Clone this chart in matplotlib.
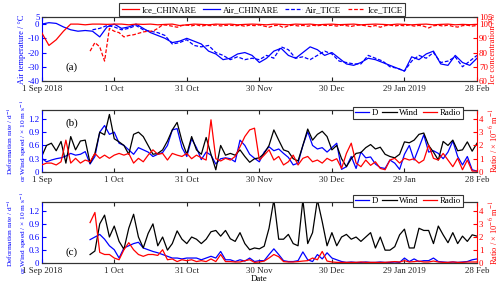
import numpy as np
import pandas as pd
import matplotlib
matplotlib.use('Agg')
import matplotlib.pyplot as plt

plt.rcParams['font.family'] = ['Liberation Serif', 'DejaVu Serif']
plt.rcParams['mathtext.fontset'] = 'stix'
plt.rcParams['font.size'] = 6.4
plt.rcParams['axes.unicode_minus'] = False

# ---- data ----
start = pd.Timestamp('2018-09-01')
end = pd.Timestamp('2019-02-28')

# panel (a): 3-day steps from 1 Sep (air temp degC, ice conc %)
air_chinare = [0, 1, 0.5, -2, -4, -5, -4.5, -5, -9, -2,
               0, -3, -2, 0, -3, -6, -8, -10, -13, -12,
               -10, -12, -14, -19, -21, -25, -24, -21, -20, -22,
               -27, -24, -19, -17, -22, -24, -20, -16, -18, -22,
               -20, -24, -28, -29, -27, -24, -25, -27, -29, -31,
               -33, -23, -25, -21, -19, -28, -29, -22, -27, -29,
               -24]
ice_chinare = [94, 85, 89, 95, 100, 100, 99.5, 100, 100, 99.8,
               100, 100, 99.5, 100, 99.8, 100, 99.5, 99.8, 100, 99,
               99.5, 100, 99.8, 99.5, 100, 99.8, 100, 99.5, 99.8, 100,
               99.8, 99.5, 100, 99.8, 99.5, 100, 99.8, 100, 99.5, 99.8,
               100, 99.6, 99.8, 100, 99.5, 99.8, 100, 99.8, 99.5, 100,
               99.8, 99.5, 99.8, 100, 99.5, 99.8, 100, 99.5, 99.8, 99.6,
               99.8]
# Air_TICE: 3-day steps from 22 Sep
air_tice = [-4, -3, -1, -2, -4, -3, -1, -4, -5, -6,
            -8, -14, -13, -11, -15, -16, -15, -20, -22, -25,
            -23, -25, -24, -25, -22, -24, -16, -18, -24, -23,
            -25, -22, -19, -21, -26, -27, -28, -28, -22, -24,
            -26, -30, -31, -33, -26, -22, -24, -20, -27, -26,
            -23, -30, -26, -22]
# Ice_TICE: 2-day steps from 21 Sep
ice_tice = [81, 87, 84, 74, 97, 95, 94, 91, 92, 92.5,
            93.5, 94.5, 95, 95, 97, 99.5, 99.2, 98.5, 97.8, 99,
            99.3, 98.8, 99.5, 98.6, 99.2, 98.9, 99.4, 98.7, 99.1, 99.3,
            98.8, 99.2, 98.5, 99.3, 98.9, 99.4, 98.6, 97.8, 98.9, 99.2,
            97.5, 98.8, 99.3, 98.7, 99.1, 98.5, 99.2, 98.8, 99.4, 98.9,
            99.2, 98.6, 99.3, 98.9, 98.4, 99.1, 99.4, 98.8, 98.2, 99,
            97.8, 98.9, 99.3, 98.7, 99.2, 98.8, 99.4, 98.6, 99.1, 98.5,
            97.3, 98.8, 99.2, 98.6, 99.3, 98.4, 97.9, 98.9, 99.2, 98.6,
            99]

# panel (b): 2-day steps from 1 Sep
d_b = [0.31, 0.23, 0.27, 0.3, 0.32, 0.36, 0.42, 0.38, 0.4, 0.46,
       0.18, 0.35, 0.9, 1.05, 0.85, 0.9, 0.65, 0.6, 0.5, 0.4,
       0.55, 0.5, 0.45, 0.35, 0.4, 0.44, 0.6, 0.95, 0.98, 0.55,
       0.35, 0.75, 0.55, 0.28, 0.45, 0.38, 0.18, 0.3, 0.32, 0.3,
       0.23, 0.72, 0.6, 0.4, 0.31, 0.23, 0.45, 0.57, 0.48, 0.52,
       0.42, 0.33, 0.16, 0.2, 0.6, 0.91, 0.6, 0.52, 0.55, 0.45,
       0.55, 0.65, 0.06, 0.12, 0.35, 0.08, 0.45, 0.32, 0.34, 0.18,
       0.1, 0.08, 0.27, 0.2, 0.06, 0.4, 0.6, 0.27, 0.55, 0.84,
       0.45, 0.48, 0.42, 0.3, 0.45, 0.7, 0.35, 0.16, 0.35, 0.05,
       0.02]
wind_b = [0.35, 0.6, 0.65, 0.48, 0.69, 0.2, 0.8, 0.5, 0.7, 0.72,
          0.2, 0.42, 0.9, 0.84, 1.3, 0.75, 0.68, 0.6, 0.4, 0.85,
          0.9, 0.8, 0.6, 0.4, 0.42, 0.5, 0.7, 0.95, 1.12, 0.7,
          0.4, 0.8, 0.5, 0.4, 0.78, 0.4, 0.05, 0.6, 0.38, 0.42,
          0.38, 0.5, 0.35, 0.22, 0.3, 0.32, 0.42, 0.6, 0.95, 0.72,
          0.5, 0.46, 0.3, 0.25, 0.6, 0.97, 0.72, 0.85, 0.92, 0.8,
          0.5, 0.6, 0.3, 0.12, 0.3, 0.42, 0.44, 0.55, 0.62, 0.52,
          0.56, 0.4, 0.35, 0.32, 0.4, 0.68, 0.66, 0.72, 0.85, 0.88,
          0.6, 0.45, 0.27, 0.69, 0.6, 0.72, 0.48, 0.5, 0.68, 0.47,
          0.65]
radio_b = [0.53, 0.67, 0.67, 0.53, 0.77, 2.4, 0.67, 1.03, 0.67, 0.9,
           0.77, 1.4, 1.03, 1.27, 1.03, 1.27, 1.4, 1.27, 1.4, 0.67,
           1.03, 0.77, 1.27, 1.67, 1.33, 1.4, 0.9, 1.4, 1.27, 1.17,
           1.4, 1.0, 1.27, 1.07, 0.9, 3.93, 1.0, 0.83, 1.03, 0.9,
           1.17, 1.9, 2.67, 3.17, 3.3, 0.9, 1.27, 1.67, 0.9, 1.17,
           0.53, 0.77, 1.27, 0.53, 1.03, 1.17, 0.77, 0.9, 0.67, 1.03,
           0.83, 1.0, 0.27, 1.4, 2.17, 0.67, 0.4, 0.9, 0.5, 0.77,
           0.27, 0.17, 0.9, 1.03, 0.67, 1.03, 0.9, 1.0, 0.67, 0.9,
           2.03, 1.03, 0.9, 1.4, 0.9, 0.4, 1.03, 0.17, 0.9, 0.07,
           0.07]

# panel (c): 2-day steps from 21 Sep
d_c = [0.54, 0.6, 0.66, 0.55, 0.4, 0.31, 0.12, 0.35, 0.4, 0.45,
       0.48, 0.35, 0.31, 0.27, 0.24, 0.2, 0.16, 0.12, 0.12, 0.1,
       0.12, 0.12, 0.12, 0.08, 0.12, 0.16, 0.12, 0.27, 0.08, 0.08,
       0.04, 0.08, 0.05, 0.12, 0.04, 0.06, 0.06, 0.2, 0.33, 0.2,
       0.06, 0.04, 0.04, 0.06, 0.26, 0.08, 0.04, 0.2, 0.1, 0.24,
       0.12, 0.08, 0.04, 0.02, 0.03, 0.02, 0.02, 0.03, 0.02, 0.02,
       0.03, 0.02, 0.02, 0.03, 0.02, 0.12, 0.04, 0.1, 0.04, 0.06,
       0.06, 0.12, 0.04, 0.03, 0.02, 0.03, 0.02, 0.03, 0.04, 0.08,
       0.1]
wind_c = [0.2, 0.28, 0.9, 1.1, 0.6, 0.85, 0.5, 0.32, 0.8, 1.12,
          0.6, 0.35, 0.68, 0.9, 0.4, 0.6, 0.3, 0.45, 0.74, 0.55,
          0.45, 0.6, 0.55, 0.45, 0.55, 0.72, 0.75, 0.62, 0.75, 0.56,
          0.5, 0.7, 0.45, 0.31, 0.35, 0.33, 0.39, 0.8, 1.45, 0.55,
          0.55, 0.66, 0.45, 0.4, 1.45, 0.45, 0.7, 1.45, 0.95, 0.4,
          0.7, 0.4, 0.6, 0.66, 0.55, 0.6, 0.5, 0.6, 0.7, 0.35,
          0.6, 0.3, 0.3, 0.38, 0.65, 0.78, 0.35, 0.35, 0.8, 0.75,
          0.75, 0.45, 0.85, 0.65, 0.47, 0.7, 0.45, 0.62, 0.5, 0.65,
          0.62]
radio_c = [3.1, 3.87, 0.83, 0.67, 0.67, 0.4, 0.27, 1.03, 1.57, 1.03,
           0.67, 0.53, 0.67, 0.67, 0.6, 1.03, 0.27, 0.33, 0.13, 0.27,
           0.2, 0.27, 0.13, 0.2, 0.13, 0.33, 0.13, 0.67, 0.13, 0.13,
           0.1, 0.1, 0.2, 0.27, 0.07, 0.1, 0.17, 0.4, 0.67, 0.5,
           0.13, 0.1, 0.1, 0.13, 0.17, 0.2, 0.4, 0.27, 0.9, 0.17,
           0.1, 0.07, 0.07, 0.07, 0.07, 0.07, 0.1, 0.07, 0.07, 0.07,
           0.07, 0.07, 0.1, 0.13, 0.1, 0.2, 0.1, 0.13, 0.17, 0.1,
           0.1, 0.17, 0.1, 0.07, 0.07, 0.1, 0.07, 0.07, 0.1, 0.1,
           0.1]

tick_dates = pd.date_range(start, periods=7, freq='30D')
labels_long = ['1 Sep 2018', '1 Oct', '31 Oct', '30 Nov', '30 Dec', '29 Jan 2019', '28 Feb']
labels_short = ['1 Sep', '1 Oct', '31 Oct', '30 Nov', '30 Dec', '29 Jan', '28 Feb']


def days(first, step, n):
    return start + pd.to_timedelta(first + step * np.arange(n), unit='D')


def style(ax, axr, xlabels):
    ax.set_xlim(start, end)
    ax.set_xticks(tick_dates)
    ax.set_xticklabels(xlabels)
    ax.tick_params(axis='x', direction='in', top=True, length=3, pad=3, colors='#222222')
    ax.tick_params(axis='y', direction='in', length=3, pad=1.5, colors='blue')
    axr.tick_params(axis='y', direction='in', length=3, pad=1.5, colors='red')
    ax.spines['left'].set_color('blue')
    ax.spines['right'].set_visible(False)
    axr.spines['left'].set_visible(False)
    axr.spines['right'].set_color('red')
    for a in (ax, axr):
        a.spines['top'].set_color('#333333')
        a.spines['bottom'].set_color('#333333')


fig = plt.figure(figsize=(5, 2.87), dpi=100)
W = 0.8706
L = 0.0834

# ---- (a) ----
ax1 = fig.add_axes([L, 0.7178, W, 0.223])
ax1r = ax1.twinx()
l1, = ax1r.plot(days(0, 3, len(ice_chinare)), ice_chinare, color='red', lw=0.9)
l2, = ax1.plot(days(0, 3, len(air_chinare)), air_chinare, color='blue', lw=0.9)
l3, = ax1.plot(days(21, 3, len(air_tice)), air_tice, color='blue', lw=0.9, ls=(0, (3, 1.5)))
l4, = ax1r.plot(days(20, 2, len(ice_tice)), ice_tice, color='red', lw=0.9, ls=(0, (3, 1.5)))
ax1.set_ylim(-40, 5)
ax1.set_yticks([-40, -30, -20, -10, 0, 5])
ax1r.set_ylim(60, 105)
ax1r.set_yticks([60, 70, 80, 90, 100, 105])
style(ax1, ax1r, labels_long)
ax1.set_ylabel('Air temperature / °C', color='blue', fontsize=6)
ax1.yaxis.set_label_coords(-0.036, 0.5)
ax1r.set_ylabel('Ice concentration /%', color='red', fontsize=6)
ax1r.yaxis.set_label_coords(1.028, 0.5)
ax1.text(0.054, 0.22, '(a)', transform=ax1.transAxes, fontsize=8, va='center')
leg = ax1r.legend([l1, l2, l3, l4], ['Ice_CHINARE', 'Air_CHINARE', 'Air_TICE', 'Ice_TICE'],
                  ncol=4, loc='upper center', bbox_to_anchor=(0.507, 1.22), fontsize=6.4,
                  frameon=True, fancybox=False, edgecolor='#333333', framealpha=1,
                  handlelength=1.9, columnspacing=0.7, handletextpad=0.35, borderpad=0.3,
                  borderaxespad=0)
leg.get_frame().set_linewidth(0.8)

# ---- (b) and (c) ----
for pos, dv, wv, rv, first, xl, tag, tagy, legy in [
        ([L, 0.4007, W, 0.216], d_b, wind_b, radio_b, 0, labels_short, '(b)', 0.79, 1.048),
        ([L, 0.0826, W, 0.2136], d_c, wind_c, radio_c, 20, labels_long, '(c)', 0.18, 1.114)]:
    ax = fig.add_axes(pos)
    axr = ax.twinx()
    x = days(first, 2, len(dv))
    h1, = ax.plot(x, dv, color='blue', lw=0.9)
    h2, = ax.plot(x, wv, color='black', lw=0.9)
    h3, = axr.plot(x, rv, color='red', lw=0.9)
    ax.set_ylim(0, 1.4)
    ax.set_yticks([0, 0.3, 0.6, 0.9, 1.2])
    ax.set_yticklabels(['0', '0.3', '0.6', '0.9', '1.2'])
    axr.set_ylim(0, 1.4 / 0.3)
    axr.set_yticks([0, 1, 2, 3, 4])
    style(ax, axr, xl)
    ax.set_ylabel('Deformation rate / d$^{-1}$\nor Wind speed / × 10 m s$^{-1}$',
                  color='blue', fontsize=5.3, linespacing=1.3)
    ax.yaxis.set_label_coords(-0.03, 0.5)
    axr.set_ylabel('Ratio / × 10$^{-6}$ m$^{-1}$', color='red', fontsize=6)
    axr.yaxis.set_label_coords(1.026, 0.5)
    ax.text(0.054, tagy, tag, transform=ax.transAxes, fontsize=8, va='center')
    lg = axr.legend([h1, h2, h3], ['D', 'Wind', 'Radio'], ncol=3, loc='upper right',
                    bbox_to_anchor=(0.968, legy), fontsize=6.4, frameon=True, fancybox=False,
                    edgecolor='#333333', framealpha=1, handlelength=1.6, columnspacing=0.5,
                    handletextpad=0.3, borderpad=0.2, borderaxespad=0)
    lg.get_frame().set_linewidth(0.8)
    if tag == '(c)':
        ax.set_xlabel('Date', fontsize=6.4, labelpad=0)

fig.savefig('out.png', dpi=100)
